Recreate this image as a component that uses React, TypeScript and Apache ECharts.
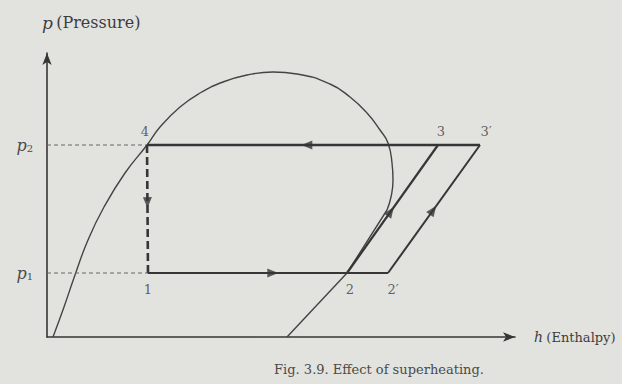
import React, { useEffect, useRef } from "react";
import * as echarts from "echarts";

// Pressure levels (evaporator p1, condenser p2)
const P1 = 64;
const P2 = 192;

// State points of the cycle: enthalpy / pressure
const stateNames = ["1", "2", "2′", "3", "3′", "4"];
const stateH = [101, 300, 341, 391, 433, 100];
const stateP = [P1, P1, P1, P2, P2, P2];

// Saturation dome (liquid side, crown, vapour side)
const domeH = [6, 17, 28, 41, 57, 78, 100, 113, 133, 153, 176, 200, 226, 250, 283, 303, 320, 333, 341, 345, 346, 344, 340];
const domeP = [0, 30, 62, 97, 130, 164, 192, 210, 230, 244, 255, 262, 265, 263, 253, 240, 224, 207, 194, 174, 157, 140, 127];
// Lower part of the saturated-vapour line
const vapourH = [340, 300, 240];
const vapourP = [127, 64, 0];

const FONT = '"DejaVu Serif", "Liberation Serif", serif';
const INK = "#363636";
const TEXT = "#3d3d3d";

const pt = (name: string): [number, number] => {
  const i = stateNames.indexOf(name);
  return [stateH[i], stateP[i]];
};

const zip = (a: number[], b: number[]) => a.map((v, i) => [v, b[i]]);

// Flow arrows: segment from -> to, position as a fraction along it
const arrowSegments: [string, string, number][] = [
  ["3′", "4", 0.52],
  ["1", "2′", 0.52],
  ["4", "1", 0.45],
  ["2", "3", 0.48],
  ["2′", "3′", 0.49],
];

export default function App() {
  const ref = useRef<HTMLDivElement>(null);

  useEffect(() => {
    if (!ref.current) return;
    const chart = echarts.init(ref.current, undefined, { renderer: "svg" });

    const seg = (a: string, b: string, width: number, type: any = "solid", color = INK) => ({
      type: "line",
      data: [pt(a), pt(b)],
      symbol: "none",
      silent: true,
      lineStyle: { color, width, type },
    });

    const arrows = arrowSegments.map(([a, b, f]) => {
      const [h0, p0] = pt(a);
      const [h1, p1] = pt(b);
      const ang = (Math.atan2(p1 - p0, h1 - h0) * 180) / Math.PI;
      return {
        value: [h0 + (h1 - h0) * f, p0 + (p1 - p0) * f],
        symbolRotate: ang - 90,
      };
    });

    const labelPos: Record<string, { position: string; offset: number[] }> = {
      "1": { position: "bottom", offset: [0, 2] },
      "2": { position: "bottom", offset: [3, 2] },
      "2′": { position: "bottom", offset: [5, 2] },
      "3": { position: "top", offset: [3, 0] },
      "3′": { position: "top", offset: [6, 0] },
      "4": { position: "top", offset: [-2, 0] },
    };

    chart.setOption({
      animation: false,
      backgroundColor: "transparent",
      title: {
        text: "Fig. 3.9. Effect of superheating.",
        left: 374,
        top: 358,
        textAlign: "center",
        textStyle: { fontFamily: FONT, fontSize: 13, fontWeight: "normal", color: "#4a4a4a" },
      },
      grid: { left: 47, right: 107, top: 53, bottom: 47 },
      xAxis: {
        type: "value",
        min: 0,
        max: 468,
        name: "{i|h} {n|(Enthalpy)}",
        nameLocation: "end",
        nameGap: 19,
        nameTextStyle: {
          rich: {
            i: { fontFamily: FONT, fontStyle: "italic", fontSize: 14, color: TEXT },
            n: { fontFamily: FONT, fontSize: 13, color: TEXT },
          },
        },
        axisLine: { show: true, lineStyle: { color: INK, width: 1.6 }, symbol: ["none", "arrow"], symbolSize: [7, 12] },
        axisTick: { show: false },
        axisLabel: { show: false },
        splitLine: { show: false },
      },
      yAxis: {
        type: "value",
        min: 0,
        max: 284,
        name: "{i|p} {n|(Pressure)}",
        nameLocation: "end",
        nameGap: 22,
        nameTextStyle: {
          align: "left",
          padding: [0, 0, 0, -5],
          rich: {
            i: { fontFamily: FONT, fontStyle: "italic", fontSize: 17, color: TEXT },
            n: { fontFamily: FONT, fontSize: 16, color: TEXT },
          },
        },
        axisLine: { show: true, lineStyle: { color: INK, width: 1.6 }, symbol: ["none", "arrow"], symbolSize: [7, 12] },
        axisTick: { show: false },
        splitLine: { show: false },
        axisLabel: {
          customValues: [P1, P2],
          margin: 14,
          formatter: (v: number) => (v === P2 ? "{i|p}{s|2}" : "{i|p}{s|1}"),
          rich: {
            i: { fontFamily: FONT, fontStyle: "italic", fontSize: 16, color: "#4a4a4a" },
            s: { fontFamily: FONT, fontSize: 10, color: "#4a4a4a", padding: [7, 0, 0, 0] },
          },
        },
      },
      series: [
        {
          type: "line",
          data: zip(domeH, domeP),
          smooth: 0.5,
          symbol: "none",
          silent: true,
          lineStyle: { color: "#444", width: 1.4 },
        },
        {
          type: "line",
          data: zip(vapourH, vapourP),
          symbol: "none",
          silent: true,
          lineStyle: { color: "#444", width: 1.4 },
        },
        // reference dashes to the pressure axis
        {
          type: "line",
          data: [[0, P2], pt("4")],
          symbol: "none",
          silent: true,
          lineStyle: { color: "#666", width: 1, type: [4, 3] },
        },
        {
          type: "line",
          data: [[0, P1], pt("1")],
          symbol: "none",
          silent: true,
          lineStyle: { color: "#666", width: 1, type: [4, 3] },
        },
        // cycle
        seg("3′", "4", 2.6),
        seg("1", "2′", 2.2),
        seg("2", "3", 2.2),
        seg("2′", "3′", 2.0),
        seg("4", "1", 2.6, [8, 4]),
        {
          type: "scatter",
          data: arrows,
          symbol: "triangle",
          symbolSize: [9, 11],
          silent: true,
          itemStyle: { color: INK },
        },
        {
          type: "scatter",
          data: stateNames.map((n, i) => ({
            value: [stateH[i], stateP[i]],
            label: { show: true, position: labelPos[n].position, offset: labelPos[n].offset },
          })),
          symbolSize: 1,
          silent: true,
          itemStyle: { color: "transparent" },
          label: {
            show: true,
            formatter: (p: any) => stateNames[p.dataIndex],
            fontFamily: FONT,
            fontSize: 13,
            color: TEXT,
            distance: 7,
          },
        },
      ],
    });

    return () => chart.dispose();
  }, []);

  return (
    <div
      style={{ position: "fixed", left: 0, top: 0, width: 622, height: 384, background: "#e2e2df" }}
    >
      <div ref={ref} style={{ width: 622, height: 384 }} />
    </div>
  );
}
